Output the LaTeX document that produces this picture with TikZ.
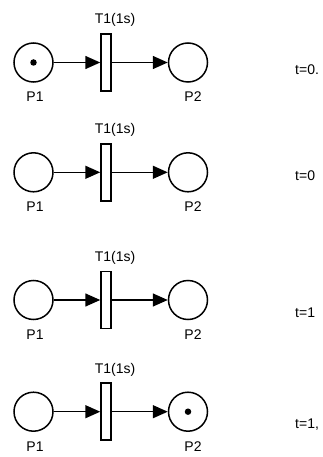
\documentclass[tikz,border=0pt]{standalone}
\usepackage{fontspec}
\setmainfont{Liberation Sans}
\usetikzlibrary{arrows.meta}
\begin{document}
\begin{tikzpicture}[x=1pt,y=-1pt,
  every node/.style={font=\fontsize{14}{16}\selectfont, inner sep=0pt},
  place/.style={circle, draw, line width=1.5pt, minimum size=39pt},
  trans/.style={rectangle, draw, line width=1.5pt, fill=white, minimum width=10pt, minimum height=57pt},
  token/.style={circle, fill, minimum size=6.5pt},
  arc/.style={line width=1.5pt, -{Triangle[length=15pt,width=13pt]}},
  timelabel/.style={anchor=base west}]
  \useasboundingbox (0,0) rectangle (322,457);
  % one row per marking: index / arc height / baseline of the time text / time text
  \foreach \i/\yy/\ty/\txt in {1/62.5/75/{t=0.}, 2/172.3/180/{t=0}, 3/300/317/{t=1}, 4/411.7/428.5/{t=1,}} {
    \node[place] (p1-\i) at (33.5,\yy) {};
    \node[trans] (t1-\i) at (106,\yy) {};
    \node[place] (p2-\i) at (188,\yy) {};
    \node[anchor=base] (lp1-\i) at (35,\yy+39.5) {P1};
    \node[anchor=base] (lp2-\i) at (193,\yy+39.5) {P2};
    \node[anchor=base] (lt1-\i) at (115,\yy-38.5) {T1(1s)};
    \draw[arc] (p1-\i) -- (t1-\i);
    \draw[arc] (t1-\i) -- (p2-\i);
    \node[timelabel] (tt-\i) at (295,\ty) {\txt};
  }
  \node[token] (tok1) at (p1-1) {};
  \node[token] (tok4) at (p2-4) {};
\end{tikzpicture}
\end{document}
